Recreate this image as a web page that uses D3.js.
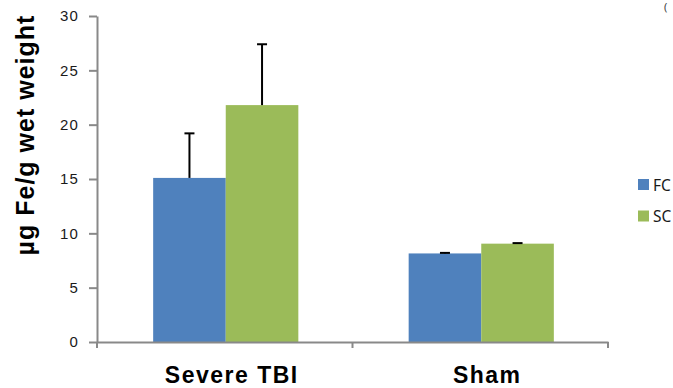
<!DOCTYPE html>
<html><head><meta charset="utf-8">
<script src="https://cdn.jsdelivr.net/npm/d3@7/dist/d3.min.js"></script>
<style>body{margin:0;background:#fff}</style>
</head><body>
<svg id="c" width="673" height="388"></svg>
<script>
const categories = ["Severe TBI", "Sham"];
const seriesNames = ["FC", "SC"];
const fcValues = [15.1, 8.15];
const scValues = [21.8, 9.05];
const fcErrors = [4.1, 0.05];
const scErrors = [5.6, 0.05];
const yTicks = [0, 5, 10, 15, 20, 25, 30];
const colors = ["#4F81BD", "#9BBB59"];

(function () {
const svg = d3.select("#c");
const mLeft = 97, mRight = 608, mTop = 16, mBottom = 342;
const y = d3.scaleLinear().domain([0, 30]).range([mBottom, mTop]);
const x0 = d3.scaleBand().domain(categories).range([mLeft, mRight]).paddingInner(0).paddingOuter(0);
const x1 = d3.scaleBand().domain(seriesNames).range([0, x0.bandwidth()]).paddingInner(0).paddingOuter(0.76);

const values = [fcValues, scValues];
const errs = [fcErrors, scErrors];
const data = [];
categories.forEach((c, i) => seriesNames.forEach((s, j) => data.push({c, s, j, v: values[j][i], e: errs[j][i]})));

const bx = d => x0(d.c) + x1(d.s) + 1;
svg.append("g").selectAll("rect").data(data).join("rect")
  .attr("x", bx).attr("width", x1.bandwidth())
  .attr("y", d => y(d.v)).attr("height", d => y(0) - y(d.v))
  .attr("fill", d => colors[d.j]);

const eg = svg.append("g").attr("stroke", "#000").attr("stroke-width", 2);
data.forEach(d => {
  const cx = bx(d) + x1.bandwidth() / 2;
  eg.append("line").attr("x1", cx).attr("x2", cx).attr("y1", y(d.v)).attr("y2", y(d.v + d.e));
  eg.append("line").attr("x1", cx - 5).attr("x2", cx + 5).attr("y1", y(d.v + d.e)).attr("y2", y(d.v + d.e));
});

const yAxis = svg.append("g").attr("transform", `translate(${mLeft},0)`)
  .call(d3.axisLeft(y).tickValues(yTicks).tickSize(8).tickPadding(10).tickSizeOuter(0));
yAxis.select(".domain").attr("stroke", "#898989").attr("stroke-width", 2);
yAxis.selectAll(".tick line").attr("stroke", "#898989").attr("stroke-width", 2);
yAxis.selectAll(".tick text").attr("font-family", "Liberation Sans, Arial, sans-serif")
  .attr("font-size", 15).attr("letter-spacing", 1.2).attr("fill", "#1a1a1a");

const xAxis = svg.append("g").attr("transform", `translate(0,${mBottom})`)
  .call(d3.axisBottom(x0).tickSize(0).tickSizeOuter(0));
xAxis.select(".domain").attr("stroke", "#898989").attr("stroke-width", 2);
xAxis.selectAll(".tick text").attr("font-family", "Liberation Sans, Arial, sans-serif")
  .attr("font-size", 23).attr("font-weight", "bold").attr("fill", "#000")
  .attr("letter-spacing", 1.5).attr("y", 41).attr("dy", 0).attr("dx", 7);
const bounds = [mLeft, x0(categories[1]), mRight];
svg.append("g").selectAll("line").data(bounds).join("line")
  .attr("x1", d => d).attr("x2", d => d).attr("y1", mBottom).attr("y2", mBottom + 6)
  .attr("stroke", "#898989").attr("stroke-width", 2);

svg.append("text").attr("transform", "translate(34,135) rotate(-90)")
  .attr("text-anchor", "middle").attr("font-family", "Liberation Sans, Arial, sans-serif")
  .attr("font-size", 25).attr("font-weight", "bold").attr("letter-spacing", 1)
  .text("µg Fe/g wet weight");

const lg = svg.append("g");
seriesNames.forEach((s, j) => {
  lg.append("rect").attr("x", 638).attr("y", 179 + j * 31.5).attr("width", 11).attr("height", 11).attr("fill", colors[j]);
  lg.append("text").attr("x", 653).attr("y", 190.5 + j * 31.5).attr("font-family", "Noto Sans, sans-serif")
    .attr("font-size", 15.5).attr("fill", "#1a1a1a").text(s);
});
svg.append("text").attr("x", 664).attr("y", 11).attr("font-family", "Noto Sans, sans-serif")
  .attr("font-size", 11).attr("fill", "#444").text("(");
})();
</script>
</body></html>
